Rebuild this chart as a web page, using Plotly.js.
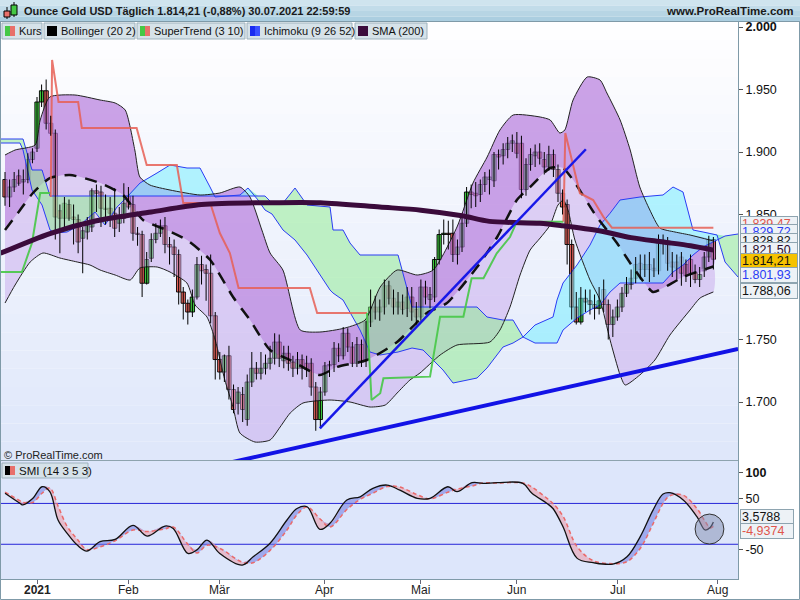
<!DOCTYPE html>
<html><head><meta charset="utf-8">
<script src="https://cdn.plot.ly/plotly-3.0.1.min.js"></script>
<style>html,body{margin:0;padding:0;background:#fff;}#chart{width:800px;height:600px;}</style>
</head><body><div id="chart"></div>
<script>
// ---------------- DATA ----------------
const monthTickIdx = [7, 27, 47, 70, 91, 112, 134, 156];
const monthLabels = ['<b>2021</b>', 'Feb', 'Mär', 'Apr', 'Mai', 'Jun', 'Jul', 'Aug'];

const opens = [1878,1864,1872,1881,1876,1878,1894,1903,1940,1949, 1923,1915,1853,1847,1858,1848,1846,1831,1836,1840,
 1869,1868,1855,1855,1851,1843,1847,1865,1858,1835, 1834,1795,1815,1830,1835,1841,1826,1824,1818,1788,
 1779,1772,1784,1810,1806,1803,1769,1734,1724,1737, 1710,1699,1706,1686,1716,1727,1723,1727,1731,1735,
 1748,1733,1739,1732,1727,1734,1731,1731,1712,1686, 1708,1729,1730,1743,1737,1755,1744,1731,1746,1734,
 1764,1776,1772,1776,1793,1783,1776,1780,1775,1784, 1774,1768,1792,1782,1784,1814,1834,1835,1835,1818,
 1824,1843,1868,1867,1866,1874,1878,1877,1898,1897, 1902,1907,1907,1907,1870,1890,1897,1900,1894,1888,
 1898,1886,1867,1858,1826,1776,1764,1783,1781,1778, 1775,1790,1778,1762,1768,1776,1787,1794,1799,1811,
 1806,1810,1807,1805,1828,1829,1812,1812,1816,1810, 1814,1804,1798,1805,1816,1830];
const highs = [1884,1878,1884,1886,1886,1899,1903,1944,1954,1958, 1929,1918,1858,1864,1862,1858,1850,1840,1848,1871,
 1874,1873,1866,1864,1871,1856,1875,1872,1865,1840, 1837,1820,1835,1843,1846,1848,1832,1830,1822,1792,
 1782,1790,1816,1817,1810,1818,1772,1740,1738,1745, 1714,1712,1712,1722,1740,1732,1740,1738,1745,1755,
 1754,1745,1745,1737,1740,1738,1737,1735,1716,1712, 1732,1733,1748,1747,1760,1759,1748,1752,1750,1765,
 1790,1785,1782,1798,1797,1790,1788,1786,1792,1792, 1780,1798,1797,1792,1816,1838,1846,1845,1846,1830,
 1848,1872,1874,1876,1878,1884,1886,1900,1902,1907, 1912,1914,1916,1913,1895,1903,1906,1907,1900,1905,
 1902,1890,1870,1862,1830,1788,1792,1790,1790,1786, 1792,1798,1782,1774,1782,1792,1800,1806,1816,1818,
 1818,1820,1815,1834,1834,1832,1820,1818,1820,1814, 1818,1810,1808,1820,1833,1832];
const lows = [1857,1856,1868,1873,1866,1875,1891,1900,1936,1918, 1913,1830,1819,1838,1845,1826,1819,1803,1830,1836,
 1852,1840,1842,1840,1832,1836,1843,1854,1829,1825, 1784,1794,1812,1827,1832,1819,1810,1800,1778,1766,
 1762,1768,1782,1794,1781,1763,1718,1718,1716,1702, 1691,1690,1684,1681,1712,1718,1718,1722,1726,1730,
 1728,1727,1725,1720,1722,1718,1720,1705,1677,1680, 1705,1720,1724,1732,1734,1740,1728,1728,1728,1728,
 1760,1766,1765,1770,1778,1770,1770,1770,1768,1765, 1762,1765,1778,1775,1780,1810,1826,1822,1812,1810,
 1820,1840,1855,1856,1860,1868,1866,1872,1886,1890, 1895,1900,1895,1863,1865,1885,1888,1890,1882,1885,
 1880,1860,1850,1810,1766,1762,1762,1772,1770,1766, 1770,1772,1750,1752,1765,1772,1784,1790,1795,1798,
 1800,1796,1800,1802,1818,1805,1800,1798,1793,1796, 1792,1795,1792,1800,1812,1806];
const closes = [1864,1872,1878,1875,1878,1894,1900,1940,1949,1923, 1915,1848,1847,1859,1847,1846,1828,1837,1841,1869,
 1867,1855,1854,1851,1839,1847,1859,1856,1835,1834, 1795,1814,1830,1835,1841,1826,1824,1818,1788,1779,
 1772,1784,1810,1805,1803,1769,1734,1724,1737,1710, 1694,1708,1694,1716,1727,1723,1727,1731,1735,1748,
 1735,1739,1731,1727,1734,1727,1726,1712,1686,1708, 1729,1730,1743,1737,1755,1744,1731,1746,1732,1764,
 1776,1772,1776,1793,1783,1776,1780,1774,1784,1772, 1768,1792,1784,1786,1814,1834,1835,1834,1818,1824,
 1843,1868,1866,1865,1874,1880,1880,1898,1896,1902, 1907,1909,1899,1870,1890,1898,1900,1895,1888,1898,
 1886,1867,1856,1826,1776,1764,1783,1780,1778,1775, 1781,1778,1762,1768,1776,1787,1794,1799,1810,1806,
 1810,1806,1805,1828,1830,1811,1808,1807,1803,1801, 1803,1798,1802,1816,1830,1814.21];

// Bollinger (20 2) (bar index, price)
const bbUpperX = [0,2.2,6.6,7.7,9.8,15.3,20.8,24.1,26.3,28.4,29.5,31.7,36.1,42.7,47.0,51.4,53.6,56.2,58.0,60.8,64.6,68.9,74.4,78.8,82.1,85.8,90.2,93.7,98.9,102.4,105.5,108.3,111.2,117.1,119.3,121.4,122.5,124.3,127.4,130.2,131.7,134.6,136.8,138.9,141.1,143.3,146.6,149.9,155];
const bbUpperY = [1897.6,1901.6,1905.6,1925.6,1944,1945.6,1941.6,1939.2,1933.6,1901.6,1880,1873.6,1869.6,1865.6,1867.2,1872,1864,1837.6,1819.2,1805.6,1757.6,1756,1759.2,1765.6,1792,1805.6,1801.6,1805.6,1840,1875.2,1896,1917.6,1929.6,1928,1925.6,1915.2,1917.6,1941.6,1960,1957.6,1947.2,1925.6,1901.6,1872,1853.6,1839.2,1836,1833.6,1828.82];
const bbLowerX = [0,2.2,5.5,8.3,12.0,15.8,18.6,20.8,24.1,27.4,29.5,33.3,36.1,39.8,41.6,44.2,46.0,48.1,49.9,51.4,54.7,58.0,60.2,62.4,65.2,71.1,75.5,79.9,83.2,85.8,88.6,90.8,95.2,98.9,106.1,108.3,110.5,112.7,114.9,117.1,119.3,121.0,122.2,123.2,124.7,128.0,130.2,132.4,134.6,135.7,138.9,142.2,145.5,149.9,152.1,155];
const bbLowerY = [1779.2,1793.6,1812,1819.2,1815.2,1812,1809.6,1805.6,1801.6,1797.6,1807.2,1808,1804,1795.2,1777.6,1768,1749.6,1717.6,1696,1675.2,1668,1669.6,1680,1691.2,1699.2,1701.6,1700,1696,1697.6,1707.2,1717.6,1723.2,1737.6,1745.6,1748,1757.6,1776,1801.6,1821.6,1831.2,1841.6,1857.6,1861.6,1853.6,1829.6,1797.6,1781.6,1749.6,1721.6,1713.6,1721.6,1733.6,1753.6,1773.6,1783.2,1788.06];
const bbMidX = [0,3.3,6.1,9.8,14.2,20.8,25.8,30.2,35.4,39.8,44.9,49.9,53.6,58.0,62.4,68.9,72.6,79.2,85.8,92.3,96.7,103.3,107.7,112.0,114.9,119.3,122.1,124.3,129.5,133.9,137.4,141.8,144.0,148.4,155];
const bbMidY = [1837.6,1853.6,1867.2,1879.2,1881.6,1875.2,1865.6,1845.6,1837.6,1829.6,1813.6,1784,1765.6,1741.6,1733.6,1721.6,1728,1733.6,1748,1771.2,1779.2,1808,1832,1861.6,1872,1887.2,1887.2,1877.6,1848,1827.2,1808,1788,1791.2,1800,1808.44];

// SMA (200)
const smaX = [-1,10,20,32,43,58,69,82,91,100,106,117,122,130,137,144,150,155];
const smaY = [1819,1835,1845,1852,1858,1859.5,1859.5,1856,1853.5,1849,1844.5,1843,1841,1837,1831.5,1828,1825,1821.5];

// SuperTrend (3 10) segments
const stGreen1X = [-1,3.7,5.9,7.7,10.0];
const stGreen1Y = [1804,1804,1827.2,1867.2,1867.2];
const stRed1X = [10.0,10.3,11.7,16.0,16.8,28.8,31.0,37.6,39.0,44.9,47.0,49.2,51.1,66.7,68.3,79.2];
const stRed1Y = [1864,1973.6,1940,1940,1919.2,1919.2,1889.6,1889.6,1859.2,1859.2,1835.2,1819.2,1791.2,1791.2,1771.2,1771.2];
const stGreen2X = [79.2,80.2,82.1,82.8,93.0,95.2,100.3,102.1,104.7,107.6,110.5,112.0,114.9,122.2];
const stGreen2Y = [1771.2,1701.6,1707,1719,1720.3,1768.3,1768.3,1799,1799,1819,1832,1844.3,1844.3,1844.3];
const stRed2X = [122.2,122.6,125.8,128.7,130.9,132.8,155];
const stRed2Y = [1844.3,1915.2,1867,1861.6,1848.3,1839.47,1839.47];

// Ichimoku (9 26 52) spans
const ichiX = [-1,3.28,3.94,5.91,8.10,9.85,10.94,13.57,16.41,19.69,21.88,24.51,26.70,29.54,33.26,36.11,39.82,42.67,44.86,45.95,51.42,53.17,55.36,56.89,58.42,60.83,63.46,66.08,71.12,71.77,73.96,75.49,77.68,79.87,82.06,86.00,89.06,91.47,93.65,95.84,98.03,101.09,103.28,105.47,108.97,111.16,113.35,115.97,119.91,120.79,122.10,125.16,128.01,130.20,132.39,134.57,138.95,143.98,146.17,148.36,150.55,152.74,155.80,157.55,160.39];
const ichiA = [1907.2,1907.2,1901.6,1869.6,1857.6,1837.6,1835.2,1836,1841.6,1852,1841.6,1856,1864,1875.2,1883.2,1889.6,1887.2,1887.2,1872,1864,1865.6,1871.2,1861.6,1853.6,1850.4,1837.6,1829.6,1817.6,1789.6,1787.2,1781.6,1772,1757.6,1740,1737.6,1740,1743.2,1741.6,1733.6,1725.6,1715.2,1717.6,1719.2,1727.2,1744,1747.2,1752,1761.6,1768,1781.6,1795.2,1809.6,1825.6,1841.6,1851,1861.6,1864,1865.6,1872,1868,1837.6,1836,1833.6,1812,1800];
const ichiB = [1910.4,1910.4,1910.4,1885.6,1885.6,1864.8,1864.8,1864.8,1864.8,1864.8,1864.8,1864.8,1864.8,1864.8,1864.8,1864.8,1864.8,1864.8,1864.8,1864.8,1864.8,1864.8,1864.8,1864.8,1859.2,1859.2,1871.2,1857.6,1856,1837.6,1837.6,1827.2,1817.6,1817.6,1817.6,1817.6,1776,1776,1776,1776,1776,1776,1776,1768,1765.6,1765.6,1752,1747.2,1747.2,1747.2,1757.6,1767.2,1773.6,1777.6,1788,1795.2,1795.2,1795.2,1804,1809.6,1817.6,1824,1829.6,1832.8,1834.4];

// Trend lines drawn on the chart
const trend1X = [68.9, 127.1], trend1Y = [1679, 1902.2];
const trend2X = [48.8, 160.4], trend2Y = [1651.2, 1742.4];

// SMI (14 3 5 3)
const smiX = [0,3.3,3.9,6.1,8.1,9.8,11.6,13.6,15.8,17.9,20.8,24.1,28.0,31.1,35.0,36.8,40.0,42.0,44.2,47.0,51.9,54.3,58.0,61.7,63.9,66.1,68.9,71.1,74.8,77.7,80.5,83.6,86.4,90.2,93.0,96.9,98.9,102.2,104.6,107.7,113.3,115.3,118.6,119.9,122.1,125.2,128.7,133.0,136.1,139.0,141.8,144.0,145.5,148.4,151.4,153.2,154.3,155];
const smiVal = [59.8,40,37,50,72.7,63,7.5,-18.6,-41.6,-53.3,-35,-30.5,-3,-24,-4.3,-9,-58,-51,-31.8,-58,-80.8,-64.5,-38,7.5,30,33.5,-10.8,1,46.7,53,69.6,76,66,50,50,72.7,63,80.6,79.4,80.6,79.4,59.8,40,30,-5.7,-67.6,-76,-78.8,-64.5,-25,27,58.4,61,46.7,14,-12,-7,3.5788];
const smiSig = [62,45,42,42,60,70,35,-5,-30,-50,-45,-33,-12,-15,-10,-6,-40,-57,-42,-48,-75,-76,-52,-12,18,33,10,-6,28,48,60,73,72,57,49,62,68,74,80,80,80,72,50,40,15,-45,-72,-78,-74,-48,0,40,55,56,30,5,-8,-4.9374];
const smiLevels = [40, -40];

const lastPriceLabels = ['1.839,47','1.829,72','1.828,82','1.821,50','1.814,21','1.801,93','1.788,06'];
const lastSmiLabels = ['3,5788','-4,9374'];
const titleText = 'Ounce Gold USD Täglich 1.814,21 (-0,88%) 30.07.2021 22:59:59';

// ---------------- DRAWING ----------------
const FONT = 'Liberation Sans, Arial, sans-serif';
const idx = opens.map((_, i) => i);
const px2x = px => (px - 1) / 737;
const py2y = py => (579 - py) / 557;
const rev = a => a.slice().reverse();

const traces = [];
// Bollinger fills
traces.push({x: bbUpperX.concat(rev(bbMidX)), y: bbUpperY.concat(rev(bbMidY)), mode:'lines', fill:'toself',
  fillcolor:'rgba(180,120,220,0.68)', line:{width:0, shape:'spline', smoothing:0.6}, hoverinfo:'skip', yaxis:'y'});
traces.push({x: bbMidX.concat(rev(bbLowerX)), y: bbMidY.concat(rev(bbLowerY)), mode:'lines', fill:'toself',
  fillcolor:'rgba(200,168,235,0.5)', line:{width:0, shape:'spline', smoothing:0.6}, hoverinfo:'skip', yaxis:'y'});
// Ichimoku cloud
const ichiMax = ichiA.map((a, k) => Math.max(a, ichiB[k]));
traces.push({x: ichiX, y: ichiB, mode:'lines', line:{width:0}, hoverinfo:'skip'});
traces.push({x: ichiX, y: ichiMax, mode:'lines', line:{width:0}, fill:'tonexty', fillcolor:'rgba(120,238,255,0.55)', hoverinfo:'skip'});
traces.push({x: ichiX, y: ichiA, mode:'lines', line:{width:0}, hoverinfo:'skip'});
traces.push({x: ichiX, y: ichiMax, mode:'lines', line:{width:0}, fill:'tonexty', fillcolor:'rgba(140,235,140,0.5)', hoverinfo:'skip'});
traces.push({x: ichiX, y: ichiA, mode:'lines', line:{width:1, color:'#2a3cf5'}, hoverinfo:'skip'});
traces.push({x: ichiX, y: ichiB, mode:'lines', line:{width:1, color:'#2a3cf5'}, hoverinfo:'skip'});
// Bollinger lines
traces.push({x: bbUpperX, y: bbUpperY, mode:'lines', line:{width:1, color:'#222', shape:'spline', smoothing:0.6}, hoverinfo:'skip'});
traces.push({x: bbLowerX, y: bbLowerY, mode:'lines', line:{width:1, color:'#222', shape:'spline', smoothing:0.6}, hoverinfo:'skip'});
traces.push({x: bbMidX, y: bbMidY, mode:'lines', line:{width:2.5, color:'#111', dash:'12px,9px', shape:'spline', smoothing:0.6}, hoverinfo:'skip'});
// SuperTrend
[[stGreen1X, stGreen1Y, 'rgba(70,200,70,0.9)'], [stRed1X, stRed1Y, 'rgba(230,95,85,0.85)'],
 [stGreen2X, stGreen2Y, 'rgba(70,200,70,0.9)'], [stRed2X, stRed2Y, 'rgba(230,95,85,0.85)']].forEach(s => {
  traces.push({x: s[0], y: s[1], mode:'lines', line:{width:2, color:s[2]}, hoverinfo:'skip'});
});
// Candles: wicks + bodies
const wickX = [], wickY = [];
idx.forEach(i => { wickX.push(i, i, null); wickY.push(lows[i], highs[i], null); });
traces.push({x: wickX, y: wickY, mode:'lines', line:{width:1, color:'#000'}, hoverinfo:'skip', connectgaps:false});
const bodyBase = opens.map((o, i) => Math.min(o, closes[i]));
const bodyLen = opens.map((o, i) => Math.max(Math.abs(closes[i] - o), 0.8));
const bodyColor = opens.map((o, i) => closes[i] >= o ? '#3ec63e' : '#e8655e');
traces.push({type:'bar', x: idx, y: bodyLen, base: bodyBase, width: 0.94,
  marker:{color: bodyColor, line:{color:'#000', width:0.9}}, hoverinfo:'skip', yaxis:'y'});
// SMA 200
traces.push({x: smaX, y: smaY, mode:'lines', line:{width:5, color:'#3b0b3b', shape:'spline', smoothing:0.8}, hoverinfo:'skip'});
// Trend lines
traces.push({x: trend1X, y: trend1Y, mode:'lines', line:{width:2.5, color:'#1818e8'}, hoverinfo:'skip'});
traces.push({x: trend2X, y: trend2Y, mode:'lines', line:{width:4, color:'#1212e6'}, hoverinfo:'skip'});

// SMI panel
const smiMax = smiVal.map((v, k) => Math.max(v, smiSig[k]));
traces.push({x: smiX, y: smiSig, yaxis:'y2', mode:'lines', line:{width:0, shape:'spline'}, hoverinfo:'skip'});
traces.push({x: smiX, y: smiMax, yaxis:'y2', mode:'lines', line:{width:0, shape:'spline'}, fill:'tonexty', fillcolor:'rgba(110,120,225,0.55)', hoverinfo:'skip'});
traces.push({x: smiX, y: smiVal, yaxis:'y2', mode:'lines', line:{width:0, shape:'spline'}, hoverinfo:'skip'});
traces.push({x: smiX, y: smiMax, yaxis:'y2', mode:'lines', line:{width:0, shape:'spline'}, fill:'tonexty', fillcolor:'rgba(235,160,175,0.6)', hoverinfo:'skip'});
traces.push({x: smiX, y: smiSig, yaxis:'y2', mode:'lines', line:{width:1.5, color:'#ea6a6a', dash:'4px,3px', shape:'spline'}, hoverinfo:'skip'});
traces.push({x: smiX, y: smiVal, yaxis:'y2', mode:'lines', line:{width:1.3, color:'#111', shape:'spline'}, hoverinfo:'skip'});

// ---------------- SHAPES / ANNOTATIONS ----------------
const shapes = [];
const ann = [];
// main panel gradient
const N = 24;
for (let k = 0; k < N; k++) {
  const t0 = k / N, t1 = (k + 1) / N;
  const py0 = 22 + t0 * 438, py1 = 22 + t1 * 438;
  const t = (t0 + t1) / 2;
  const r = Math.round(255 - t * 33), g = Math.round(255 - t * 25), b = Math.round(255 - t * 5);
  shapes.push({type:'rect', xref:'paper', yref:'paper', x0:0, x1:1, y0:py2y(py1), y1:py2y(py0),
    fillcolor:`rgb(${r},${g},${b})`, line:{width:0}, layer:'below'});
}
shapes.push({type:'rect', xref:'paper', yref:'paper', x0:0, x1:1, y0:0, y1:py2y(460), fillcolor:'#dde6fb', line:{width:0}, layer:'below'});
shapes.push({type:'line', xref:'paper', yref:'paper', x0:0, x1:1, y0:py2y(460.5), y1:py2y(460.5), line:{color:'#8da3ae', width:1}});
// SMI levels
smiLevels.forEach(v => shapes.push({type:'line', xref:'paper', yref:'y2', x0:0, x1:1, y0:v, y1:v, line:{color:'#2626d8', width:1}, layer:'below'}));
// SMI circle
shapes.push({type:'circle', xref:'x', yref:'y2', x0:151.0, x1:157.3, y0:-39.6, y1:19.2, fillcolor:'rgba(130,140,175,0.5)', line:{color:'#333', width:1}});
// header
const hdr = ['#cfe4ee', '#c2dce9', '#b7d5e4', '#abcee0'];
hdr.forEach((c, k) => shapes.push({type:'rect', xref:'paper', yref:'paper', x0:px2x(0), x1:px2x(800),
  y0:py2y((k + 1) * 5.5), y1:py2y(k * 5.5), fillcolor:c, line:{width:0}}));
shapes.push({type:'line', xref:'paper', yref:'paper', x0:px2x(0), x1:px2x(800), y0:py2y(21.5), y1:py2y(21.5), line:{color:'#8aa6b4', width:1}});
// header icon
shapes.push({type:'line', xref:'paper', yref:'paper', x0:px2x(7), x1:px2x(7), y0:py2y(19), y1:py2y(7), line:{color:'#000', width:1}});
shapes.push({type:'rect', xref:'paper', yref:'paper', x0:px2x(4), x1:px2x(10), y0:py2y(17), y1:py2y(11), fillcolor:'#e8706a', line:{color:'#000', width:1}});
shapes.push({type:'line', xref:'paper', yref:'paper', x0:px2x(14), x1:px2x(14), y0:py2y(17), y1:py2y(2), line:{color:'#000', width:1}});
shapes.push({type:'rect', xref:'paper', yref:'paper', x0:px2x(11), x1:px2x(17), y0:py2y(15), y1:py2y(5), fillcolor:'#45c845', line:{color:'#000', width:1}});
ann.push({xref:'paper', yref:'paper', x:px2x(22), y:py2y(11), xanchor:'left', yanchor:'middle', showarrow:false,
  text:'<b>' + titleText + '</b>', font:{family:FONT, size:11, color:'#1a1a1a'}});
ann.push({xref:'paper', yref:'paper', x:px2x(796), y:py2y(11), xanchor:'right', yanchor:'middle', showarrow:false,
  text:'<b>www.ProRealTime.com</b>', font:{family:FONT, size:11.5, color:'#1a1a1a'}});
// legend row
const legendItems = [
  {text:'Kurs', x0:2, x1:42, sw:['#45c845', '#e8706a']},
  {text:'Bollinger (20 2)', x0:44, x1:135, sw:['#000', '#000']},
  {text:'SuperTrend (3 10)', x0:137, x1:245, sw:['#45c845', '#e8706a']},
  {text:'Ichimoku (9 26 52)', x0:247, x1:352, sw:['#1a2cf0', '#3a50ff']},
  {text:'SMA (200)', x0:355, x1:427, sw:['#3b0b3b', '#3b0b3b']}
];
legendItems.forEach(it => {
  shapes.push({type:'rect', xref:'paper', yref:'paper', x0:px2x(it.x0), x1:px2x(it.x1), y0:py2y(39), y1:py2y(23),
    fillcolor:'#d6e2e9', line:{color:'#9db2bd', width:1}});
  shapes.push({type:'rect', xref:'paper', yref:'paper', x0:px2x(it.x0 + 3), x1:px2x(it.x0 + 8), y0:py2y(36), y1:py2y(26),
    fillcolor:it.sw[0], line:{width:0}});
  shapes.push({type:'rect', xref:'paper', yref:'paper', x0:px2x(it.x0 + 8), x1:px2x(it.x0 + 13), y0:py2y(36), y1:py2y(26),
    fillcolor:it.sw[1], line:{width:0}});
  ann.push({xref:'paper', yref:'paper', x:px2x(it.x0 + 15), y:py2y(31), xanchor:'left', yanchor:'middle', showarrow:false,
    text:it.text, font:{family:FONT, size:11, color:'#111'}});
});
// copyright
ann.push({xref:'paper', yref:'paper', x:px2x(2), y:py2y(455), xanchor:'left', yanchor:'middle', showarrow:false,
  text:'© ProRealTime.com', font:{family:FONT, size:11, color:'#222'}});
// SMI legend
shapes.push({type:'rect', xref:'paper', yref:'paper', x0:px2x(2), x1:px2x(88), y0:py2y(478), y1:py2y(463), fillcolor:'#d6e2e9', line:{color:'#9db2bd', width:1}});
shapes.push({type:'rect', xref:'paper', yref:'paper', x0:px2x(5), x1:px2x(10), y0:py2y(475), y1:py2y(466), fillcolor:'#000', line:{width:0}});
shapes.push({type:'rect', xref:'paper', yref:'paper', x0:px2x(10), x1:px2x(15), y0:py2y(475), y1:py2y(466), fillcolor:'#e8706a', line:{width:0}});
ann.push({xref:'paper', yref:'paper', x:px2x(17), y:py2y(470.5), xanchor:'left', yanchor:'middle', showarrow:false,
  text:'SMI (14 3 5 3)', font:{family:FONT, size:11.5, color:'#111'}});
// x tick labels (placed to match the reference baseline)
monthTickIdx.forEach((v, k) => ann.push({xref:'x', yref:'paper', x:v, y:py2y(590), xanchor:'center', yanchor:'middle',
  showarrow:false, text:monthLabels[k], font:{family:FONT, size:12, color:'#222'}}));
// right value labels (each drawn with its own box so later ones cover earlier ones)
const priceLabelStyle = [
  {py:224, c:'#e0564c'}, {py:232, c:'#2a3cf5'}, {py:241, c:'#111'}, {py:250, c:'#2a0a2a'},
  {py:260.5, c:'#111', bg:'#f6c200'}, {py:274.5, c:'#2a3cf5'}, {py:291, c:'#111'}
];
lastPriceLabels.forEach((t, k) => {
  const s = priceLabelStyle[k];
  ann.push({xref:'paper', yref:'paper', x:px2x(740), y:py2y(s.py), xanchor:'left', yanchor:'middle', showarrow:false,
    text:t, align:'left', width:54, height:12, borderpad:1, bgcolor:s.bg || '#edf2f6', bordercolor:'#8ea4b0', borderwidth:1,
    font:{family:FONT, size:12.5, color:s.c}});
});
const smiLabelStyle = [{py:517, c:'#111'}, {py:531, c:'#e0564c'}];
lastSmiLabels.forEach((t, k) => {
  const s = smiLabelStyle[k];
  ann.push({xref:'paper', yref:'paper', x:px2x(740), y:py2y(s.py), xanchor:'left', yanchor:'middle', showarrow:false,
    text:t, align:'left', width:50, height:12, borderpad:1, bgcolor:'#edf2f6', bordercolor:'#8ea4b0', borderwidth:1,
    font:{family:FONT, size:12.5, color:s.c}});
});
// outer border
shapes.push({type:'rect', xref:'paper', yref:'paper', x0:px2x(0.5), x1:px2x(799.5), y0:py2y(599.5), y1:py2y(21.5), line:{color:'#7f9aa8', width:1}, fillcolor:'rgba(0,0,0,0)'});

const layout = {
  width:800, height:600, margin:{l:1, r:62, t:22, b:21},
  paper_bgcolor:'#ffffff', plot_bgcolor:'rgba(0,0,0,0)', showlegend:false,
  xaxis:{domain:[0,1], anchor:'y2', range:[-0.88, 160.39], tickvals:monthTickIdx, showticklabels:false,
    ticks:'outside', ticklen:4, tickcolor:'#667', showgrid:false, zeroline:false, showline:true, linecolor:'#7f9aa8', fixedrange:true},
  yaxis:{domain:[0.2136, 1], anchor:'x', range:[1653.6, 2004], side:'right',
    tickvals:[1700,1750,1850,1900,1950,2000], ticktext:['1.700','1.750','1.850','1.900','1.950','<b>2.000</b>'],
    ticks:'outside', ticklen:4, tickcolor:'#555', showgrid:false, zeroline:false, showline:true, linecolor:'#7f9aa8',
    tickfont:{family:FONT, size:12.5, color:'#111'}},
  yaxis2:{domain:[0, 0.2136], anchor:'x', range:[-108, 125], side:'right',
    tickvals:[-50, 50, 100], ticktext:['-50','50','<b>100</b>'],
    ticks:'outside', ticklen:4, tickcolor:'#555', showgrid:false, zeroline:false, showline:true, linecolor:'#7f9aa8',
    tickfont:{family:FONT, size:12.5, color:'#111'}},
  shapes:shapes, annotations:ann
};
Plotly.newPlot('chart', traces, layout, {staticPlot:true, displayModeBar:false});
</script></body></html>
